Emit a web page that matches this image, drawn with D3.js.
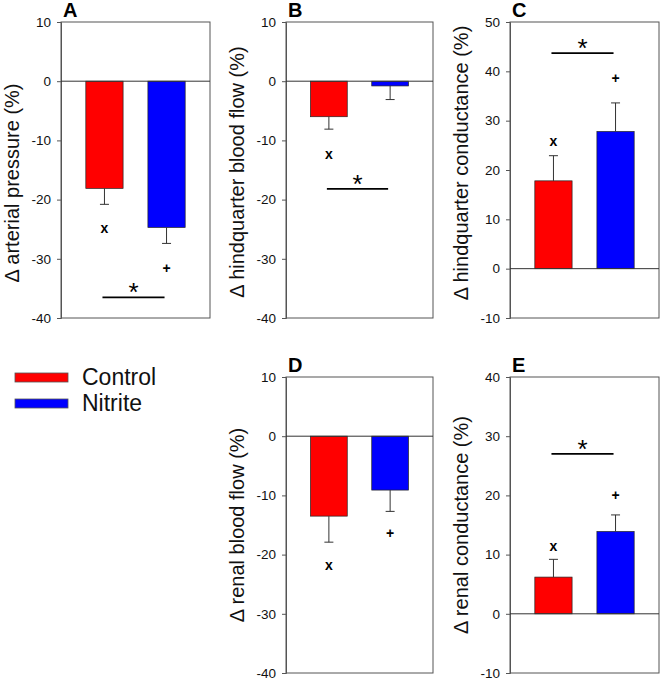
<!DOCTYPE html>
<html><head><meta charset="utf-8">
<script src="https://cdn.jsdelivr.net/npm/d3@7"></script>
<style>
html,body{margin:0;padding:0;background:#fff;}
svg{display:block;font-family:"Liberation Sans",Arial,sans-serif;}
</style></head>
<body>
<svg id="chart" width="660" height="680"></svg>
<script>
// ---- data ----
const groups = ["Control", "Nitrite"];
const groupColors = ["#ff0000", "#0000ff"];
const panelLetters = ["A", "B", "C", "D", "E"];
const yTitles = ["\u0394 arterial pressure (%)", "\u0394 hindquarter blood flow (%)",
  "\u0394 hindquarter conductance (%)", "\u0394 renal blood flow (%)", "\u0394 renal conductance (%)"];
const yDomains = [[-40, 10], [-40, 10], [-10, 50], [-40, 10], [-10, 40]];
const yTickValues = [
  [-40, -30, -20, -10, 0, 10],
  [-40, -30, -20, -10, 0, 10],
  [-10, 0, 10, 20, 30, 40, 50],
  [-40, -30, -20, -10, 0, 10],
  [-10, 0, 10, 20, 30, 40]
];
const controlMean = [-18.1, -6.0, 17.8, -13.5, 6.2];
const controlSem  = [2.7, 2.1, 5.1, 4.4, 3.0];
const nitriteMean = [-24.7, -0.8, 27.8, -9.1, 13.9];
const nitriteSem  = [2.7, 2.3, 5.8, 3.6, 2.8];
const controlMarkY = [-24.8, -12.3, 25.8, -21.8, 11.4];   // "x" marker
const nitriteMarkY = [-31.6, null, 38.7, -16.4, 20.0];    // "+" marker
const sigLineY     = [-36.5, -18.2, 43.7, null, 27.0];    // "*" bar

// ---- layout ----
const boxes = [
  {x0: 61, x1: 210, y0: 22, y1: 318, tdy: 13},
  {x0: 286, x1: 433, y0: 22, y1: 318, tdy: 2},
  {x0: 510, x1: 659, y0: 22, y1: 318, tdy: -7},
  {x0: 286, x1: 433, y0: 377, y1: 673, tdy: 0},
  {x0: 510, x1: 659, y0: 377, y1: 673, tdy: 0}
];
const frameColor = "#555";
const svg = d3.select("#chart");

panelLetters.forEach((letter, i) => {
  const b = boxes[i];
  const g = svg.append("g");
  const x = d3.scaleBand().domain(groups).range([b.x0, b.x1]).padding(0.4);
  const y = d3.scaleLinear().domain(yDomains[i]).range([b.y1, b.y0]);
  const means = [controlMean[i], nitriteMean[i]];
  const sems = [controlSem[i], nitriteSem[i]];

  // frame
  g.append("rect").attr("x", b.x0).attr("y", b.y0)
    .attr("width", b.x1 - b.x0).attr("height", b.y1 - b.y0)
    .attr("fill", "none").attr("stroke", frameColor).attr("stroke-width", 1);

  // axis
  const ax = g.append("g").attr("transform", `translate(${b.x0},0)`)
    .call(d3.axisLeft(y).tickValues(yTickValues[i]).tickSize(4).tickPadding(6).tickFormat(d => String(d)));
  ax.select(".domain").attr("stroke", frameColor);
  ax.selectAll(".tick line").attr("stroke", frameColor);
  ax.selectAll(".tick text").attr("font-size", 13.5).attr("fill", "#111")
    .attr("font-family", "'Liberation Sans',Arial,sans-serif");

  // bars
  g.selectAll(".bar").data(groups).enter().append("rect")
    .attr("x", d => x(d))
    .attr("width", x.bandwidth())
    .attr("y", (d, j) => Math.min(y(0), y(means[j])))
    .attr("height", (d, j) => Math.abs(y(means[j]) - y(0)))
    .attr("fill", (d, j) => groupColors[j])
    .attr("stroke", "#222").attr("stroke-width", 0.7);

  // zero line
  g.append("line").attr("x1", b.x0).attr("x2", b.x1)
    .attr("y1", y(0)).attr("y2", y(0)).attr("stroke", "#333").attr("stroke-width", 1);

  // error bars (one-sided, away from zero)
  groups.forEach((gname, j) => {
    const m = means[j], s = sems[j] * Math.sign(m);
    const cx = x(gname) + x.bandwidth() / 2;
    g.append("line").attr("x1", cx).attr("x2", cx)
      .attr("y1", y(m)).attr("y2", y(m + s)).attr("stroke", "#333").attr("stroke-width", 1);
    g.append("line").attr("x1", cx - 4.5).attr("x2", cx + 4.5)
      .attr("y1", y(m + s)).attr("y2", y(m + s)).attr("stroke", "#333").attr("stroke-width", 1);
  });

  // markers
  const cC = x("Control") + x.bandwidth() / 2, cN = x("Nitrite") + x.bandwidth() / 2;
  if (controlMarkY[i] !== null)
    g.append("text").attr("x", cC).attr("y", y(controlMarkY[i])).attr("dy", "0.35em")
      .attr("text-anchor", "middle").attr("font-size", 14).attr("font-weight", "bold").text("x");
  if (nitriteMarkY[i] !== null)
    g.append("text").attr("x", cN).attr("y", y(nitriteMarkY[i])).attr("dy", "0.35em")
      .attr("text-anchor", "middle").attr("font-size", 14).attr("font-weight", "bold").text("+");
  if (sigLineY[i] !== null) {
    const ly = y(sigLineY[i]);
    g.append("line").attr("x1", cC - 2).attr("x2", cN - 2).attr("y1", ly).attr("y2", ly)
      .attr("stroke", "#000").attr("stroke-width", 1.8);
    g.append("text").attr("x", (cC + cN) / 2 - 2).attr("y", ly + 4)
      .attr("text-anchor", "middle").attr("font-size", 26).text("*");
  }

  // panel letter
  g.append("text").attr("x", b.x0 + 2).attr("y", b.y0 - 5)
    .attr("font-size", 20).attr("font-weight", "bold").text(letter);

  // y title
  const tx = b.x0 - 49, ty = (b.y0 + b.y1) / 2 + b.tdy;
  g.append("text").attr("transform", `translate(${tx},${ty}) rotate(-90)`)
    .attr("text-anchor", "middle").attr("dy", "0.35em").attr("font-size", 20).attr("fill", "#111")
    .text(yTitles[i]);
});

// legend
const leg = svg.append("g");
groups.forEach((gname, j) => {
  leg.append("rect").attr("x", 15).attr("y", 373 + j * 26).attr("width", 53).attr("height", 9)
    .attr("fill", groupColors[j]).attr("stroke", "#555").attr("stroke-width", 0.8);
  leg.append("text").attr("x", 82).attr("y", 385 + j * 26).attr("font-size", 23).attr("fill", "#111")
    .text(gname);
});
</script>
</body></html>
